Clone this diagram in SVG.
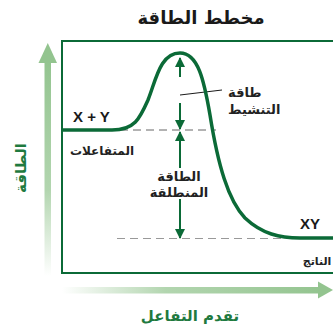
<svg xmlns="http://www.w3.org/2000/svg" width="333" height="332" viewBox="0 0 333 332">
<style>
.ar{font-family:"DejaVu Sans",sans-serif;}
.lb{font-family:"DejaVu Sans",sans-serif;font-weight:bold;fill:#222;}
.lat{font-family:"Liberation Sans",Arial,sans-serif;font-weight:bold;font-size:15px;fill:#1a1a1a;}
.dim{stroke:#0b6a37;stroke-width:2;fill:none;}
.dash1{stroke:#666;stroke-width:1;stroke-dasharray:8 5;}
.dash2{stroke:#999;stroke-width:1.2;stroke-dasharray:8 5;}
</style>
<defs>
<linearGradient id="gy" x1="0" y1="1" x2="0" y2="0">
<stop offset="0" stop-color="#9fcb9b" stop-opacity="0"/>
<stop offset="0.4" stop-color="#9fcb9b" stop-opacity="0.8"/>
<stop offset="1" stop-color="#93c48f"/>
</linearGradient>
<linearGradient id="gx" x1="0" y1="0" x2="1" y2="0">
<stop offset="0" stop-color="#9fcb9b" stop-opacity="0"/>
<stop offset="0.4" stop-color="#9fcb9b" stop-opacity="0.8"/>
<stop offset="1" stop-color="#93c48f"/>
</linearGradient>
<marker id="ah" viewBox="0 0 10 10" refX="9" refY="5" markerWidth="5" markerHeight="5" orient="auto">
<path d="M0,0 L10,5 L0,10 Z" fill="#0b6a37"/>
</marker>
</defs>
<rect width="333" height="332" fill="#fff"/>
<text class="ar" x="201" y="24" text-anchor="middle" font-size="18" font-weight="bold" fill="#1a1a1a">مخطط الطاقة</text>
<g id="axis-y">
<rect x="44.5" y="60" width="6.5" height="216" fill="url(#gy)"/>
<path d="M47.8,43 L57,63 L38.5,63 Z" fill="#93c48f"/>
<text class="ar" transform="translate(26,168) rotate(-90)" text-anchor="middle" font-size="15" font-weight="bold" fill="#1f7a3f">الطاقة</text>
</g>
<g id="axis-x">
<rect x="62" y="287" width="260" height="6.5" fill="url(#gx)"/>
<path d="M333,290 L318,281.5 L318,298.5 Z" fill="#93c48f"/>
<text class="ar" x="190" y="321" text-anchor="middle" font-size="15" font-weight="bold" fill="#1f7a3f">تقدم التفاعل</text>
</g>
<g id="frame">
<path d="M340,41 H62 V273 H340" fill="none" stroke="#0b6a37" stroke-width="2"/>
</g>
<g id="connectors">
<line class="dash1" x1="120" y1="130" x2="216" y2="130"/>
<line class="dash2" x1="117" y1="238.5" x2="290" y2="238.5"/>
<line class="dim" x1="180" y1="77" x2="180" y2="58" marker-end="url(#ah)"/>
<line class="dim" x1="180" y1="103" x2="180" y2="129" marker-end="url(#ah)"/>
<line class="dim" x1="180" y1="168" x2="180" y2="132" marker-end="url(#ah)"/>
<line class="dim" x1="180" y1="199" x2="180" y2="238" marker-end="url(#ah)"/>
<line x1="180" y1="95" x2="222" y2="90" stroke="#1a1a1a" stroke-width="1"/>
</g>
<g id="curve">
<path d="M62,130 H112 C135,130 140,118 148,100 C156,80 160,53 180,53 C198,53 204,80 210,115 C218,165 228,200 245,218 C262,234 280,238 300,238 H335" fill="none" stroke="#0b6a37" stroke-width="3.5"/>
</g>
<g id="reactants">
<text class="lat" x="73" y="122">X + Y</text>
<text class="lb" x="102" y="155" text-anchor="middle" font-size="12">المتفاعلات</text>
</g>
<g id="product">
<text class="lat" x="300" y="229">XY</text>
<text class="lb" x="317" y="265" text-anchor="middle" font-size="11">الناتج</text>
</g>
<g id="activation-energy">
<text class="lb" x="228" y="97" font-size="13">طاقة</text>
<text class="lb" x="228" y="114" font-size="13">التنشيط</text>
</g>
<g id="released-energy">
<text class="lb" x="179" y="181" text-anchor="middle" font-size="13">الطاقة</text>
<text class="lb" x="179" y="197" text-anchor="middle" font-size="13">المنطلقة</text>
</g>
</svg>
